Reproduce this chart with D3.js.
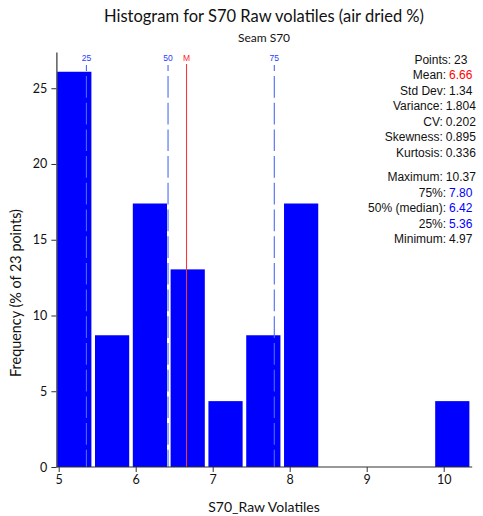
<!DOCTYPE html>
<html><head><meta charset="utf-8">
<script src="https://cdn.jsdelivr.net/npm/d3@7"></script>
<style>
body{margin:0;background:#fff;}
svg{display:block;}
</style></head>
<body><svg id="c" width="483" height="516"></svg>
<script>
// ---- data ----
const binEdges = [4.97, 5.461, 5.952, 6.443, 6.934, 7.425, 7.916, 8.407, 8.898, 9.389, 9.879, 10.37];
const binCounts = [6, 2, 4, 3, 1, 2, 4, 0, 0, 0, 1];
const nPoints = 23;
const xTicks = [5, 6, 7, 8, 9, 10];
const yTicks = [0, 5, 10, 15, 20, 25];
const markerLabels = ["25", "50", "M", "75"];
const markerValues = [5.36, 6.42, 6.66, 7.80];
const statLabels1 = ["Points:", "Mean:", "Std Dev:", "Variance:", "CV:", "Skewness:", "Kurtosis:"];
const statValues1 = ["23", "6.66", "1.34", "1.804", "0.202", "0.895", "0.336"];
const statLabels2 = ["Maximum:", "75%:", "50% (median):", "25%:", "Minimum:"];
const statValues2 = ["10.37", "7.80", "6.42", "5.36", "4.97"];
const highlight = {"Mean:": "#ff0000", "75%:": "#0000ff", "50% (median):": "#0000ff", "25%:": "#0000ff"};

const svg = d3.select("#c");
const xMin = 4.97, xMax = 10.37;
const x = d3.scaleLinear().domain([5, 10]).range([58.7, 443.7]);
const yMax = d3.max(binCounts) / nPoints * 100 * 1.05;
const y = d3.scaleLinear().domain([0, yMax]).range([467, 52]);

const font = "Lato, 'Open Sans', sans-serif";

// bars
svg.append("g").selectAll("rect").data(binCounts).join("rect")
  .attr("x", (d, i) => x(binEdges[i]) + 0.8)
  .attr("width", (d, i) => x(binEdges[i + 1]) - x(binEdges[i]) - 3.6)
  .attr("y", d => y(d / nPoints * 100))
  .attr("height", d => y(0) - y(d / nPoints * 100))
  .attr("fill", "#0000ff");

// marker lines
const mk = svg.append("g");
markerLabels.forEach((lab, i) => {
  const xv = x(markerValues[i]);
  const isM = lab === "M";
  mk.append("line")
    .attr("x1", xv).attr("x2", xv).attr("y1", isM ? 64 : 65).attr("y2", y(0))
    .attr("stroke", isM ? "#ee3b3b" : "#4a6cf0")
    .attr("stroke-width", 1.1)
    .attr("stroke-dasharray", isM ? null : "21.7,5")
    .attr("stroke-dashoffset", isM ? null : 15.7);
  mk.append("text").attr("x", xv).attr("y", 61)
    .attr("text-anchor", "middle")
    .attr("font-family", "'Liberation Sans', Arial, sans-serif")
    .attr("font-size", 8.5)
    .attr("fill", isM ? "#ff2020" : "#2a3cff")
    .text(lab);
});

// axes
const xAxis = svg.append("g").attr("transform", `translate(0,${y(0)})`)
  .call(d3.axisBottom(x).tickValues(xTicks).tickSize(5).tickSizeOuter(0).tickFormat(d3.format("d")));
xAxis.select(".domain").attr("d", `M${x(xMin)},0H${x(xMax)}`);
const yAxis = svg.append("g").attr("transform", `translate(${x(xMin)},0)`)
  .call(d3.axisLeft(y).tickValues(yTicks).tickSize(5).tickSizeOuter(0));
[xAxis, yAxis].forEach(g => {
  g.select(".domain").attr("stroke", "#333").attr("stroke-width", 1.2);
  g.selectAll(".tick line").attr("stroke", "#333");
  g.selectAll(".tick text").attr("font-family", font).attr("font-size", 12.5).attr("fill", "#111");
});
yAxis.selectAll(".tick text").attr("dx", "-0.1em");

// titles
svg.append("text").attr("x", 264).attr("y", 22).attr("text-anchor", "middle")
  .attr("font-family", font).attr("font-size", 16.5).attr("fill", "#111")
  .text("Histogram for S70 Raw volatiles (air dried %)");
svg.append("text").attr("x", 264).attr("y", 42).attr("text-anchor", "middle")
  .attr("font-family", font).attr("font-size", 12).attr("fill", "#111")
  .text("Seam S70");
svg.append("text").attr("x", 264).attr("y", 512).attr("text-anchor", "middle")
  .attr("font-family", font).attr("font-size", 14).attr("fill", "#111")
  .text("S70_Raw Volatiles");
svg.append("text").attr("transform", "translate(21,293) rotate(-90)").attr("text-anchor", "middle")
  .attr("font-family", font).attr("font-size", 14.4).attr("fill", "#111")
  .text(`Frequency (% of ${nPoints} points)`);

// stats: value centred in a column, label right-aligned just before it
const st = svg.append("g").attr("font-family", "'Liberation Sans', Arial, sans-serif").attr("font-size", 12).attr("fill", "#111");
function rows(labels, values, y0) {
  labels.forEach((l, i) => {
    const yy = y0 + i * 15.5;
    const v = st.append("text").attr("x", 460.8).attr("y", yy).attr("text-anchor", "middle")
      .attr("fill", highlight[l] || "#111").text(values[i]);
    const w = v.node().getComputedTextLength();
    st.append("text").attr("x", 460.8 - w / 2 - 3).attr("y", yy).attr("text-anchor", "end").text(l);
  });
}
rows(statLabels1, statValues1, 63.5);
rows(statLabels2, statValues2, 181);
</script></body></html>
